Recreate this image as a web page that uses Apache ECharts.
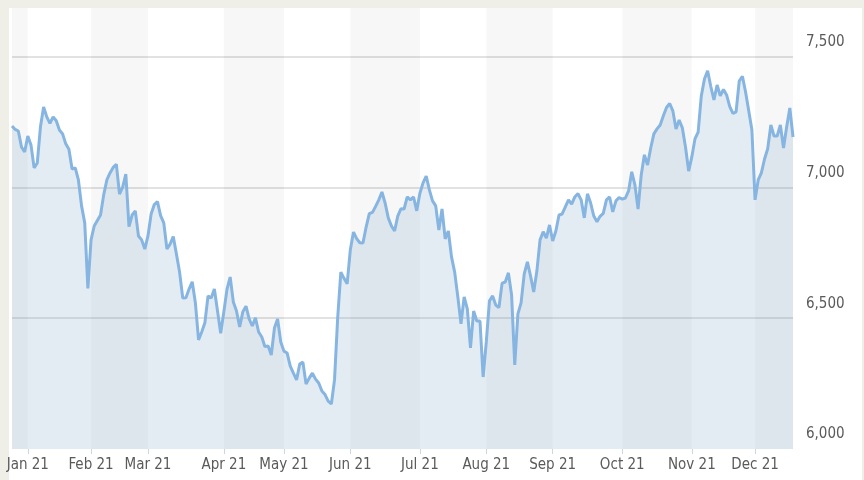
<!DOCTYPE html>
<html>
<head>
<meta charset="utf-8">
<script src="https://cdn.jsdelivr.net/npm/echarts@6/dist/echarts.min.js"></script>
<style>
  html, body { margin: 0; padding: 0; width: 864px; height: 480px; background: #efefe7; overflow: hidden; }
  #panel { position: absolute; left: 9px; top: 8px; width: 853px; height: 472px; background: #fff; }
  #grafico { position: absolute; left: 0; top: 0; width: 864px; height: 480px; }
</style>
</head>
<body>
<div id="panel"></div>
<div id="grafico"></div>
<script>
// etiquetas de mes y el indice del primer dia de cotizacion de cada mes
const etiquetasMes = ['Dec 20', 'Jan 21', 'Feb 21', 'Mar 21', 'Apr 21', 'May 21', 'Jun 21',
  'Jul 21', 'Aug 21', 'Sep 21', 'Oct 21', 'Nov 21', 'Dec 21']
const inicioMes = [0, 5, 25, 43, 67, 86, 107, 129, 150, 171, 193, 215, 235]

const ticksY = [6000, 6500, 7000, 7500]

// cierres diarios
const cierres = [
  7234, 7221, 7215, 7154, 7135, 7196, 7162, 7074, 7093, 7231, 7307, 7269, 7244, 7269, 7254, 7219,
  7204, 7166, 7145, 7070, 7074, 7028, 6929, 6864, 6614, 6799, 6852, 6873, 6894, 6971, 7028, 7055,
  7076, 7088, 6974, 7001, 7050, 6850, 6894, 6910, 6814, 6799, 6764, 6814, 6898, 6934, 6945, 6892,
  6864, 6764, 6783, 6812, 6745, 6676, 6577, 6578, 6611, 6639, 6558, 6417, 6447, 6482, 6585, 6577,
  6611, 6527, 6442, 6524, 6611, 6657, 6562, 6527, 6466, 6524, 6546, 6497, 6470, 6501, 6447, 6428,
  6391, 6394, 6359, 6462, 6497, 6409, 6374, 6367, 6317, 6290, 6264, 6325, 6332, 6248, 6271, 6290,
  6267, 6252, 6222, 6208, 6183, 6172, 6264, 6501, 6676, 6652, 6631, 6761, 6829, 6804, 6788, 6787,
  6848, 6899, 6904, 6927, 6952, 6982, 6940, 6883, 6852, 6833, 6890, 6918, 6917, 6963, 6952, 6963,
  6910, 6977, 7017, 7043, 6990, 6948, 6929, 6837, 6917, 6803, 6833, 6734, 6676, 6581, 6478, 6581,
  6535, 6386, 6527, 6489, 6489, 6275, 6409, 6566, 6585, 6550, 6540, 6634, 6638, 6673, 6589, 6321,
  6516, 6558, 6669, 6715, 6661, 6600, 6680, 6799, 6830, 6806, 6856, 6795, 6833, 6894, 6898, 6925,
  6952, 6936, 6963, 6976, 6952, 6883, 6975, 6940, 6890, 6868, 6889, 6900, 6952, 6963, 6906, 6948,
  6961, 6955, 6959, 6986, 7059, 7009, 6917, 7047, 7124, 7085, 7150, 7204, 7223, 7238, 7273, 7305,
  7320, 7292, 7223, 7257, 7227, 7154, 7062, 7116, 7185, 7211, 7349, 7414, 7445, 7385, 7334, 7391,
  7349, 7374, 7353, 7308, 7282, 7288, 7406, 7424, 7364, 7292, 7219, 6952, 7028, 7055, 7108, 7147,
  7238, 7196, 7196, 7238, 7150, 7231, 7303, 7192
]

const fuente = "'DejaVu Sans Condensed', 'Liberation Sans Narrow', sans-serif"
const etiquetaPorIndice = {}
inicioMes.forEach((idx, k) => { etiquetaPorIndice[idx] = etiquetasMes[k] })
const ultimo = cierres.length - 1

const miGrafico = echarts.init(document.getElementById('grafico'))

const opciones = {
  animation: false,
  grid: { left: 12, right: 71, top: 8, bottom: 31 },
  xAxis: {
    type: 'category',
    boundaryGap: false,
    axisLine: { show: false },
    axisTick: {
      show: true,
      length: 5,
      interval: (i) => i !== 0 && inicioMes.includes(i),
      lineStyle: { color: '#cdd6df', width: 1 }
    },
    axisLabel: {
      interval: (i) => inicioMes.includes(i),
      formatter: (v, i) => etiquetaPorIndice[i] || '',
      hideOverlap: false,
      alignMinLabel: 'left',
      margin: 9,
      fontFamily: fuente,
      fontSize: 15,
      color: '#5a5a5a'
    },
    splitLine: { show: false },
    splitArea: {
      show: true,
      interval: (i) => inicioMes.includes(i) || i === ultimo,
      // bandas semitransparentes para que se vean las lineas horizontales
      areaStyle: { color: ['rgba(0,0,0,0.032)', 'rgba(0,0,0,0)'] }
    }
  },
  yAxis: {
    type: 'value',
    position: 'right',
    min: 6000,
    max: 7685,
    interval: 500,
    axisLine: { show: false },
    axisTick: { show: false },
    axisLabel: {
      margin: 13,
      align: 'left',
      verticalAlign: 'bottom',
      padding: [0, 0, 7, 0],
      fontFamily: fuente,
      fontSize: 15,
      color: '#5a5a5a',
      formatter: (v) => ticksY.includes(v) ? v.toLocaleString('en-US') : ''
    },
    splitLine: {
      show: true,
      showMinLine: false,
      showMaxLine: false,
      lineStyle: { color: '#e2e2e2', width: 2 }
    }
  },
  series: [
    {
      type: 'line',
      data: cierres,
      symbol: 'none',
      smooth: false,
      lineStyle: { color: '#86b5e2', width: 3 },
      areaStyle: { color: 'rgba(128,166,196,0.3)', origin: 'start' }
    }
  ]
}

miGrafico.setOption(opciones, true)
</script>
</body>
</html>
